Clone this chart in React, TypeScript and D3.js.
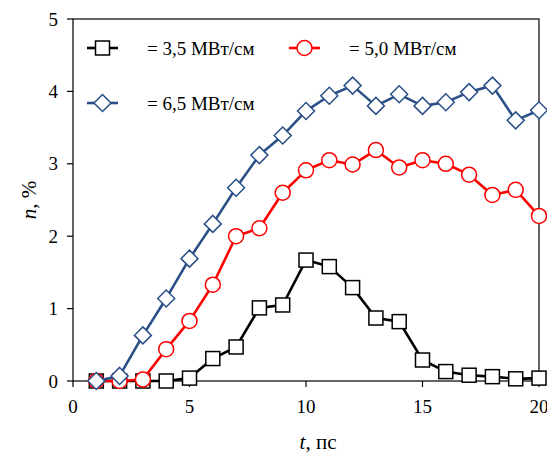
import React from "react";
import * as d3 from "d3";

const times = [1, 2, 3, 4, 5, 6, 7, 8, 9, 10, 11, 12, 13, 14, 15, 16, 17, 18, 19, 20];
const series35 = [0, 0, 0, 0, 0.04, 0.31, 0.47, 1.01, 1.05, 1.67, 1.58, 1.29, 0.87, 0.82, 0.29, 0.13, 0.08, 0.06, 0.03, 0.04];
const series50 = [0, 0, 0.02, 0.44, 0.83, 1.33, 2.0, 2.11, 2.6, 2.91, 3.05, 2.99, 3.19, 2.95, 3.05, 3.0, 2.85, 2.57, 2.64, 2.28];
const series65 = [0, 0.07, 0.63, 1.14, 1.69, 2.17, 2.67, 3.12, 3.39, 3.73, 3.94, 4.08, 3.8, 3.96, 3.8, 3.85, 3.99, 4.08, 3.6, 3.74];
const xTicks = [0, 5, 10, 15, 20];
const yTicks = [0, 1, 2, 3, 4, 5];
const legendLabels = ["= 3,5 МВт/см", "= 5,0 МВт/см", "= 6,5 МВт/см"];

const W = 547, H = 454;
const L = 73, R = 539, T = 19, B = 381;

const BLACK = "#000000";
const RED = "#FF0000";
const BLUE = "#2A5087";

function Marker({ kind, x, y, color }: { kind: string; x: number; y: number; color: string }) {
  if (kind === "square") {
    const s = 14;
    return <rect x={x - s / 2} y={y - s / 2} width={s} height={s} fill="#fff" stroke={color} strokeWidth={1.5} />;
  }
  if (kind === "circle") {
    return <circle cx={x} cy={y} r={7.5} fill="#fff" stroke={color} strokeWidth={1.5} />;
  }
  const d = 8.5;
  return (
    <path
      d={`M${x},${y - d}L${x + d},${y}L${x},${y + d}L${x - d},${y}Z`}
      fill="#fff"
      stroke={color}
      strokeWidth={1.5}
    />
  );
}

function Label({ x, y, size, anchor, rotate, children }: any) {
  return (
    <text
      transform={`translate(${x},${y})${rotate ? ` rotate(${rotate})` : ""}`}
      x={0}
      y={0}
      textAnchor={anchor || "start"}
      fontSize={size}
      fontFamily="Times New Roman"
      style={{ fontFamily: `"Times New Roman"` }}
    >
      {children}
    </text>
  );
}

export default function App() {
  const x = d3.scaleLinear().domain([0, 20]).range([L, R]);
  const y = d3.scaleLinear().domain([0, 5]).range([B, T]);
  const line = d3
    .line<number>()
    .x((_, i) => x(times[i]))
    .y((v) => y(v));

  const all = [
    { data: series35, color: BLACK, kind: "square" },
    { data: series50, color: RED, kind: "circle" },
    { data: series65, color: BLUE, kind: "diamond" },
  ];

  const legend = [
    { lx: 87, ly: 48, tx: 147, color: BLACK, kind: "square", label: legendLabels[0] },
    { lx: 289, ly: 48, tx: 349, color: RED, kind: "circle", label: legendLabels[1] },
    { lx: 87, ly: 103, tx: 147, color: BLUE, kind: "diamond", label: legendLabels[2] },
  ];

  return (
    <div style={{ position: "absolute", left: 0, top: 0, width: W, height: H, background: "#fff" }}>
      <svg width={W} height={H}>
        <rect x={L} y={T} width={R - L} height={B - T} fill="none" stroke="#000" strokeWidth={1.2} />
        {yTicks.map((t) => (
          <line key={"yt" + t} x1={L - 6} x2={L} y1={y(t)} y2={y(t)} stroke="#000" strokeWidth={1.2} />
        ))}
        {xTicks.map((t) => (
          <line key={"xt" + t} x1={x(t)} x2={x(t)} y1={B} y2={B + 6} stroke="#000" strokeWidth={1.2} />
        ))}
        {all.map((s, si) => (
          <g key={"s" + si}>
            <path d={line(s.data) || ""} fill="none" stroke={s.color} strokeWidth={2.6} strokeLinejoin="round" />
            {s.data.map((v, i) => (
              <Marker key={i} kind={s.kind} x={x(times[i])} y={y(v)} color={s.color} />
            ))}
          </g>
        ))}
        {legend.map((l, i) => (
          <g key={"l" + i}>
            <line x1={l.lx} x2={l.lx + 31} y1={l.ly} y2={l.ly} stroke={l.color} strokeWidth={2.6} />
            <Marker kind={l.kind} x={l.lx + 15.5} y={l.ly} color={l.color} />
          </g>
        ))}
        {yTicks.map((t) => (
          <Label key={"yl" + t} x={58} y={y(t) + 6.5} size={19} anchor="end">
            {String(t)}
          </Label>
        ))}
        {xTicks.map((t) => (
          <Label key={"xl" + t} x={x(t)} y={413} size={19} anchor="middle">
            {String(t)}
          </Label>
        ))}
        {legend.map((l, i) => (
          <Label key={"lt" + i} x={l.tx} y={l.ly + 6.5} size={19}>
            {l.label}
          </Label>
        ))}
        <Label x={318} y={449} size={21} anchor="middle">
          <tspan fontStyle="italic">t</tspan>, пс
        </Label>
        <Label x={36} y={200} size={21} anchor="middle" rotate={-90}>
          <tspan fontStyle="italic">n</tspan>, %
        </Label>
      </svg>
    </div>
  );
}
